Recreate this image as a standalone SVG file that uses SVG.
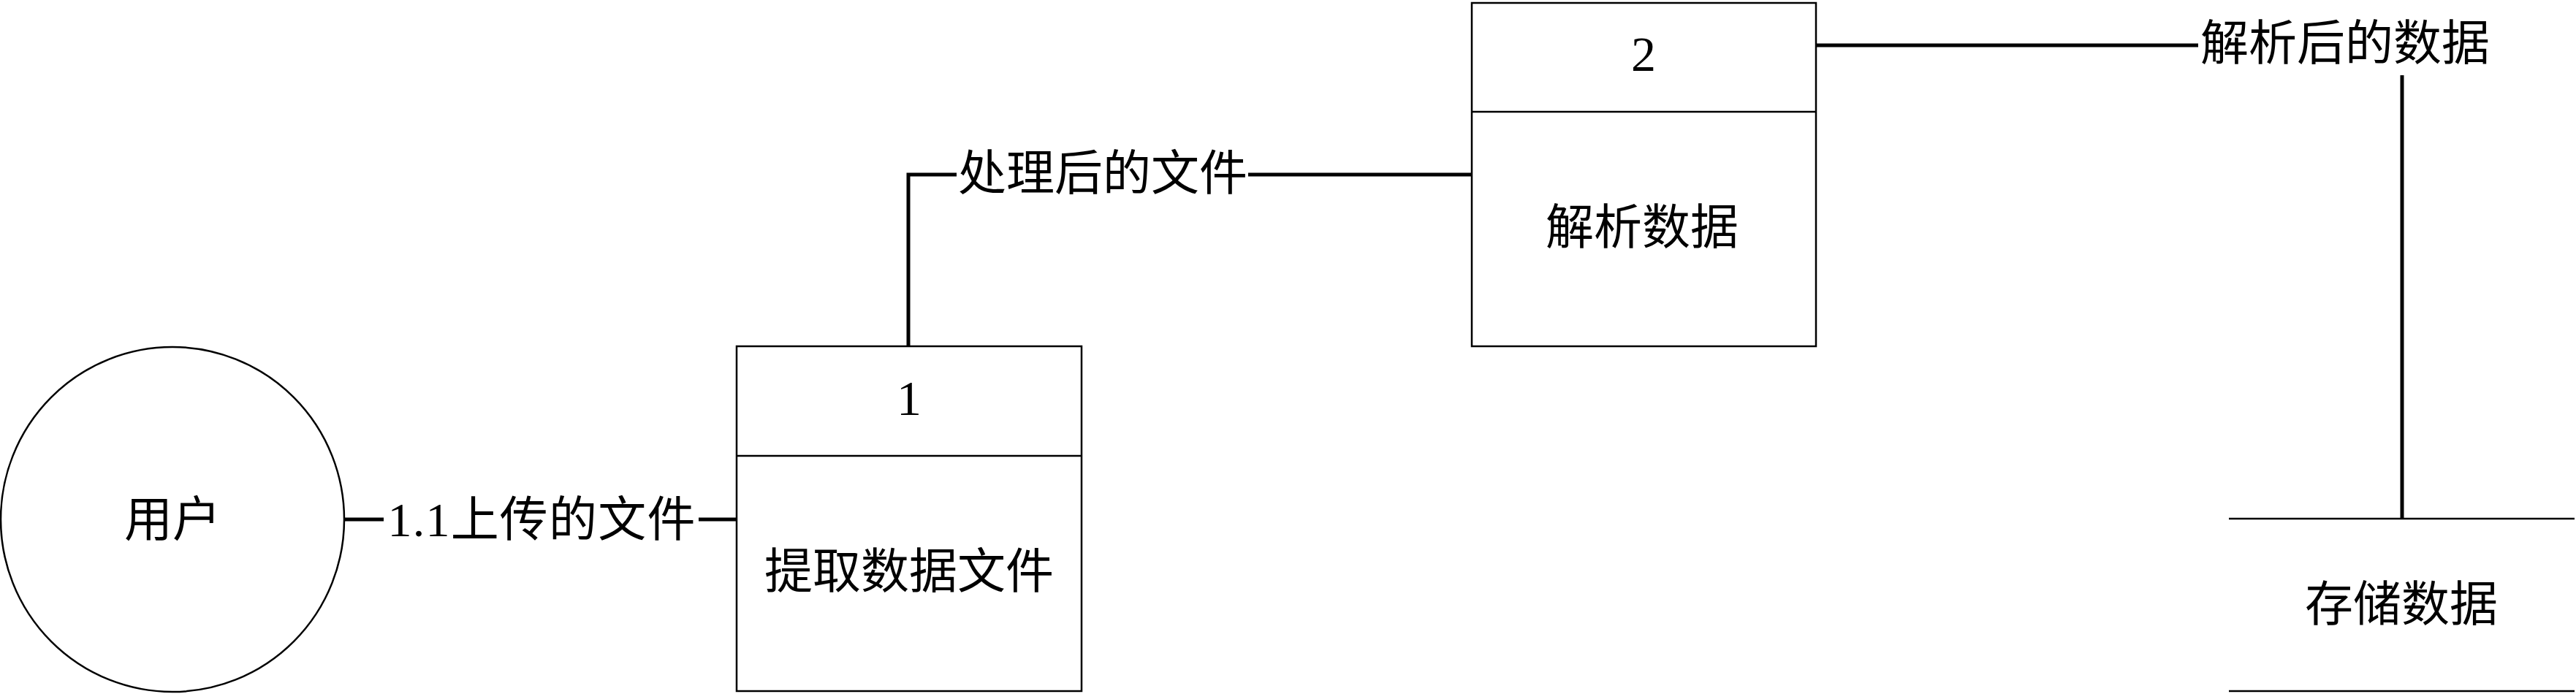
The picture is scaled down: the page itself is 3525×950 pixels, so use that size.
<svg xmlns="http://www.w3.org/2000/svg" width="3525" height="950" viewBox="0 0 3525 950">
<style>
.shape{fill:none;stroke:#000;stroke-width:2.5}
.conn{fill:none;stroke:#000;stroke-width:5}
.t{font-family:"Liberation Serif","Noto Sans CJK SC",serif;font-size:66px;fill:#000;text-anchor:middle;dominant-baseline:central}
.n{font-family:"Liberation Serif",serif;font-size:68px;fill:#000;text-anchor:middle;dominant-baseline:central}
</style>
<rect width="3525" height="950" fill="#fff"/>
<g id="connectors">
<polyline class="conn" points="472,711 525,711"/>
<polyline class="conn" points="956,711 1008,711"/>
<text class="t" x="741" y="711" textLength="421" lengthAdjust="spacing">1.1上传的文件</text>
<polyline class="conn" points="1243,474 1243,239 1309,239"/>
<polyline class="conn" points="1708,239 2014,239"/>
<text class="t" x="1509" y="237">处理后的文件</text>
<polyline class="conn" points="2485,62 3008,62"/>
<text class="t" x="3209" y="59">解析后的数据</text>
<polyline class="conn" points="3287,103 3287,710"/>
</g>
<g id="user">
<ellipse class="shape" cx="236" cy="711" rx="235" ry="236"/>
<text class="t" x="236" y="711">用户</text>
</g>
<g id="p1">
<rect class="shape" x="1008" y="474" width="472" height="472"/>
<line class="shape" x1="1008" y1="624" x2="1480" y2="624"/>
<text class="n" x="1244" y="545">1</text>
<text class="t" x="1244" y="782">提取数据文件</text>
</g>
<g id="p2">
<rect class="shape" x="2014" y="4" width="471" height="470"/>
<line class="shape" x1="2014" y1="153" x2="2485" y2="153"/>
<text class="n" x="2249" y="74">2</text>
<text class="t" x="2247" y="311">解析数据</text>
</g>
<g id="store">
<line class="shape" x1="3050" y1="710" x2="3523" y2="710"/>
<line class="shape" x1="3050" y1="946" x2="3523" y2="946"/>
<text class="t" x="3286" y="827">存储数据</text>
</g>
</svg>
